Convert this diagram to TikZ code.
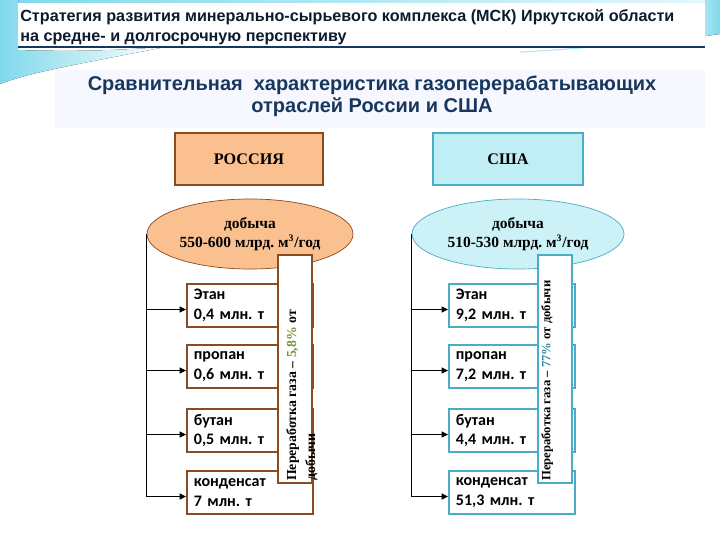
\documentclass[tikz,border=0pt]{standalone}
\usepackage{fontspec}
\setmainfont{Liberation Serif}
\setsansfont{Liberation Sans}
\newfontfamily\calibri{Carlito}
\usepackage{tikz}
\usetikzlibrary{arrows.meta,shapes.geometric}
\definecolor{peach}{HTML}{FAC090}
\definecolor{rusbrown}{HTML}{8A4A22}
\definecolor{usafill}{HTML}{BFEFF5}
\definecolor{usateal}{HTML}{4BACC6}
\definecolor{navy}{HTML}{17375E}
\definecolor{olivegr}{HTML}{77933C}
\definecolor{tealtxt}{HTML}{31859C}
\definecolor{swoosh}{HTML}{7FD9EC}
\frenchspacing

\begin{document}
\begin{tikzpicture}[x=0.025cm,y=-0.025cm,
  country/.style={draw,line width=0.8pt,minimum width=3.7cm,minimum height=1.3cm,
    font=\bfseries\fontsize{11.5}{13}\selectfont},
  output/.style={ellipse,draw,line width=0.5pt,minimum height=1.75cm,align=center,
    inner sep=0pt,font=\bfseries\fontsize{11}{13.5}\selectfont},
  product/.style={draw,line width=1.3pt,fill=white,anchor=north west,align=left,
    text width=2.8cm,inner xsep=0.175cm,minimum height=1.08cm,
    font=\calibri\bfseries\fontsize{11.4}{14}\selectfont},
  share/.style={draw,line width=1.3pt,fill=white,minimum width=0.85cm,minimum height=5.7cm},
  note/.style={rotate=90,anchor=north west,inner sep=0pt,align=left,
    font=\bfseries\fontsize{9}{13.5}\selectfont},
  flow/.style={-{Triangle[length=1.6mm,width=1.5mm]},line width=0.6pt}]
\useasboundingbox (0,0) rectangle (720,540);
% background swooshes
\fill[left color=swoosh,right color=swoosh!20] (0,0) rectangle (720,6);
\fill[left color=swoosh,right color=white] (0,0) -- (18,0) -- (18,50)
  .. controls (80,52) and (120,50) .. (165,47) .. controls (90,62) and (30,72) .. (0,84) -- cycle;
\fill[left color=swoosh!40,right color=swoosh] (705,0) -- (720,0) -- (720,34)
  .. controls (705,36) .. (690,40) -- (705,20) -- cycle;
\draw[swoosh!60,line width=0.8pt] (520,52) .. controls (600,48) and (660,40) .. (705,30);
% header
\fill[white] (18,3) rectangle (705,47);
\draw[navy,line width=1.5pt] (18,47) -- (705,47);
\node[anchor=west,align=left,inner sep=0pt,text=navy!50!black,
  font=\sffamily\bfseries\fontsize{11.5}{14}\selectfont] (title) at (20,27)
  {Стратегия развития минерально-сырьевого комплекса (МСК) Иркутской области\\
   на средне- и долгосрочную перспективу};
\fill[blue!3] (55,70) rectangle (705,128);
\node[align=center,text=navy,font=\sffamily\bfseries\fontsize{14.2}{15.6}\selectfont] (subtitle) at (372,96)
  {Сравнительная \ характеристика газоперерабатывающих\\отраслей России и США};
% countries
\node[country,fill=peach,draw=rusbrown] (rus) at (249,159) {РОССИЯ};
\node[country,fill=usafill,draw=usateal,minimum width=3.75cm] (usa) at (508,159) {США};
\node[output,fill=peach,draw=rusbrown,minimum width=5.15cm] (rusell) at (250,234)
  {добыча\\550-600 млрд. м\textsuperscript{\scriptsize 3}/год};
\node[output,fill=usafill!80!white,draw=usateal,minimum width=5.3cm] (usaell) at (518,234)
  {добыча\\510-530 млрд. м\textsuperscript{\scriptsize 3}/год};
% russia products
\node[product,draw=rusbrown] (rEtan) at (186,283) {Этан\\0,4 млн. т};
\node[product,draw=rusbrown] (rPropan) at (186,344) {пропан\\0,6 млн. т};
\node[product,draw=rusbrown] (rButan) at (186,408) {бутан\\0,5 млн. т};
\node[product,draw=rusbrown] (rKond) at (186,470) {конденсат\\7 млн. т};
\draw[line width=0.7pt] (rusell.west) -- ([yshift=-1mm]rusell.west |- rKond.west);
\draw[flow] ([yshift=-1mm]rusell.west |- rEtan.west) -- ([yshift=-1mm]rEtan.west);
\draw[flow] ([yshift=-1mm]rusell.west |- rPropan.west) -- ([yshift=-1mm]rPropan.west);
\draw[flow] ([yshift=-1mm]rusell.west |- rButan.west) -- ([yshift=-1mm]rButan.west);
\draw[flow,line width=1.2pt] ([yshift=-1mm]rusell.west |- rKond.west) -- ([yshift=-1mm]rKond.west);
\node[share,draw=rusbrown] (rShare) at (295,369) {};
\node[note,font=\bfseries\fontsize{9.8}{13.5}\selectfont] (rNote) at (286,481)
  {Переработка газа – {\color{olivegr}5,8\%} от\\добычи};
% usa products
\node[product,draw=usateal] (uEtan) at (448,283) {Этан\\9,2 млн. т};
\node[product,draw=usateal] (uPropan) at (448,344) {пропан\\7,2 млн. т};
\node[product,draw=usateal] (uButan) at (448,408) {бутан\\4,4 млн. т};
\node[product,draw=usateal] (uKond) at (448,470) {конденсат\\51,3 млн. т};
\draw[line width=0.7pt] (usaell.west) -- ([yshift=-1mm]usaell.west |- uKond.west);
\draw[flow] ([yshift=-1mm]usaell.west |- uEtan.west) -- ([yshift=-1mm]uEtan.west);
\draw[flow] ([yshift=-1mm]usaell.west |- uPropan.west) -- ([yshift=-1mm]uPropan.west);
\draw[flow] ([yshift=-1mm]usaell.west |- uButan.west) -- ([yshift=-1mm]uButan.west);
\draw[flow,line width=1.2pt] ([yshift=-1mm]usaell.west |- uKond.west) -- ([yshift=-1mm]uKond.west);
\node[share,draw=usateal] (uShare) at (555,369) {};
\node[note] (uNote) at (541,481) {Переработка газа – {\color{tealtxt}77\%} от добычи};
\end{tikzpicture}
\end{document}
